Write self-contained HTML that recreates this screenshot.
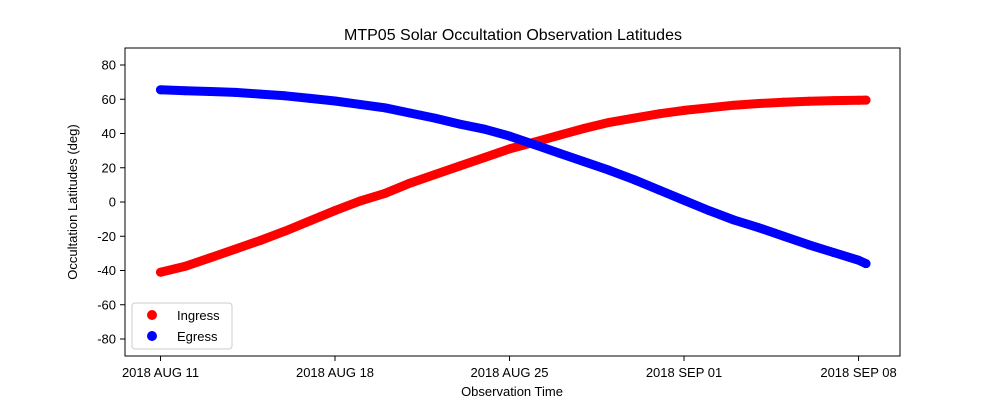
<!DOCTYPE html>
<html><head><meta charset="utf-8"><style>
body{margin:0;background:#fff;}
svg{display:block;font-family:"Liberation Sans","DejaVu Sans",sans-serif;}
</style></head><body>
<svg id="chart" width="1000" height="400" viewBox="0 0 1000 400">
<rect x="0" y="0" width="1000" height="400" fill="#fff"/>
<text x="513" y="40" text-anchor="middle" font-size="16">MTP05 Solar Occultation Observation Latitudes</text>
<g id="plot"></g>
<rect x="125" y="48" width="775" height="308" fill="none" stroke="#000" stroke-width="1"/>
<g id="axes"></g>
<text x="512" y="396" text-anchor="middle" font-size="13">Observation Time</text>
<text transform="translate(77,202) rotate(-90)" text-anchor="middle" font-size="13">Occultation Latitudes (deg)</text>
<g>
<rect x="132" y="303" width="100" height="46" rx="3" fill="#fff" stroke="#ccc"/>
<circle cx="152" cy="315" r="5" fill="#f00"/>
<text x="177" y="320" font-size="13">Ingress</text>
<circle cx="152" cy="336" r="5" fill="#00f"/>
<text x="177" y="341" font-size="13">Egress</text>
</g>
</svg>
<script>
const days = [0,1,2,3,4,5,6,7,8,9,10,11,12,13,14,15,16,17,18,19,20,21,22,23,24,25,26,27,28,28.3];
const ingress = [-41,-37.5,-32.5,-27.5,-22.5,-17,-11,-5,0.5,5,11,16,21,26,31,35,39,43,46.5,49,51.5,53.5,55,56.5,57.5,58.3,58.8,59.2,59.4,59.5];
const egress = [65.5,65,64.5,64,63,62,60.5,59,57,55,52,49,45.5,42.5,38.5,33.5,28.5,23.5,18.5,13,7,1,-5,-10.5,-15,-20,-25,-29.5,-34,-36];
const yTicks = [-80,-60,-40,-20,0,20,40,60,80];
const xTickDays = [0,7,14,21,28];
const xTickLabels = ["2018 AUG 11","2018 AUG 18","2018 AUG 25","2018 SEP 01","2018 SEP 08"];

const NS="http://www.w3.org/2000/svg";
function X(d){return 160.5 + d*24.93;}
function Y(v){return 202 - v*1.7125;}
function mk(tag,attrs,parent){const e=document.createElementNS(NS,tag);for(const k in attrs)e.setAttribute(k,attrs[k]);parent.appendChild(e);return e;}
const plot=document.getElementById('plot');
const axes=document.getElementById('axes');
function series(vals,color,name){
  const g=mk('g',{},plot);
  
  
  const pts=vals.map((v,i)=>X(days[i]).toFixed(1)+','+Y(v).toFixed(1)).join(' ');
  const pl=mk('polyline',{points:pts,fill:'none',stroke:color,'stroke-width':9,'stroke-linecap':'round','stroke-linejoin':'round'},g);
  
  
  vals.forEach((v,i)=>{
    const c=mk('circle',{cx:X(days[i]),cy:Y(v),r:4.5,fill:color},g);
    
    
  });
}
series(ingress,'#f00','ingress');
series(egress,'#00f','egress');
yTicks.forEach(t=>{
  const y=Y(t);
  const l=mk('line',{x1:120,x2:125,y1:y,y2:y,stroke:'#000'},axes);
  
  
  const tx=mk('text',{x:116,y:y+4.5,'text-anchor':'end','font-size':13},axes);
  tx.textContent=t;
  
  
});
xTickDays.forEach((d,i)=>{
  const x=X(d);
  const l=mk('line',{x1:x,x2:x,y1:356,y2:361,stroke:'#000'},axes);
  
  
  const tx=mk('text',{x:x,y:377,'text-anchor':'middle','font-size':13},axes);
  tx.textContent=xTickLabels[i];
  
  
});
</script>
</body></html>
